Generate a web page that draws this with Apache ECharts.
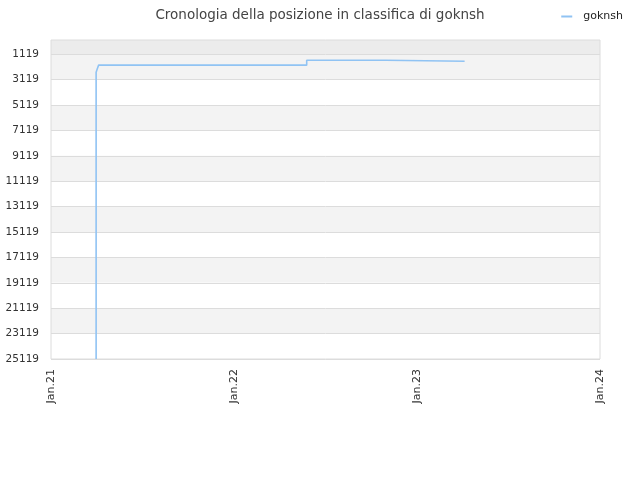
<!DOCTYPE html>
<html>
<head>
<meta charset="utf-8">
<script src="https://cdn.jsdelivr.net/npm/echarts@6/dist/echarts.min.js"></script>
<style>html,body{margin:0;padding:0;background:#fff}#c{width:640px;height:480px}</style>
</head>
<body>
<div id="c"></div>
<script>
var titleText = 'Cronologia della posizione in classifica di goknsh';
var seriesName = 'goknsh';
var dates = ['2021-04-01','2021-04-01','2021-04-01','2021-04-01','2021-04-01','2021-04-03','2021-04-06','2022-05-26','2022-10-31','2023-04-06'];
var ranks = [25119, 22126, 20316, 19349, 2540, 2300, 1980, 1591, 1670, 1670];
var yTicks = [1119, 3119, 5119, 7119, 9119, 11119, 13119, 15119, 17119, 19119, 21119, 23119, 25119];
var yMin = 1, yMax = 25119;
var xTickDates = ['2021-01-01','2022-01-01','2023-01-01','2024-01-01'];
var xTickLabels = ['Jan.21','Jan.22','Jan.23','Jan.24'];

function ts(s){ var p = s.split('-'); return Date.UTC(+p[0], +p[1]-1, +p[2]); }
var xTicks = xTickDates.map(ts);
var labelMap = {};
xTicks.forEach(function(t,i){ labelMap[t] = xTickLabels[i]; });

var bands = [[{yAxis: yMin, itemStyle:{color:'#ececec'}},{yAxis: yTicks[0]}]];
for (var i = 0; i < yTicks.length - 1; i++) {
  bands.push([{yAxis: yTicks[i], itemStyle:{color: i % 2 === 0 ? '#f3f3f3' : '#ffffff'}},{yAxis: yTicks[i+1]}]);
}

var chart = echarts.init(document.getElementById('c'));
chart.setOption({
  animation: false,
  backgroundColor: '#fff',
  title: {
    text: titleText, left: 'center', top: 3,
    textStyle: {fontFamily: 'DejaVu Sans', fontSize: 13.5, fontWeight: 'normal', color: '#444'}
  },
  legend: {
    right: 12, top: 6, icon: 'rect', itemWidth: 11, itemHeight: 2, itemGap: 5,
    textStyle: {fontFamily: 'DejaVu Sans', fontSize: 11, color: '#222', padding: [0, 0, 0, 6]},
    data: [seriesName]
  },
  grid: {left: 51, right: 40, top: 40, bottom: 121, show: true, borderColor: '#dcdcdc', borderWidth: 1, containLabel: false},
  xAxis: {
    type: 'value', min: xTicks[0], max: xTicks[xTicks.length-1],
    axisLine: {show: false}, axisTick: {show: false, customValues: xTicks}, splitLine: {show: false},
    axisLabel: {
      customValues: xTicks, rotate: 90, margin: 10,
      fontFamily: 'DejaVu Sans', fontSize: 11, color: '#333',
      formatter: function(v){ return labelMap[v] || ''; }
    }
  },
  yAxis: {
    type: 'value', inverse: true, min: yMin, max: yMax,
    axisLine: {show: false},
    axisTick: {show: false, customValues: yTicks},
    axisLabel: {customValues: yTicks, fontFamily: 'DejaVu Sans', fontSize: 10.5, color: '#333', margin: 12,
      formatter: function(v){ return String(v); }},
    splitLine: {show: true, lineStyle: {color: '#dcdcdc', width: 1}},
    splitArea: {show: false}
  },
  series: [{
    name: seriesName, type: 'line', step: 'end', symbol: 'none',
    lineStyle: {color: '#90c3f3', width: 1.6},
    itemStyle: {color: '#90c3f3'},
    data: dates.map(function(d,i){ return [ts(d), ranks[i]]; }),
    markArea: {silent: true, z: -1, data: bands}
  }]
});
</script>
</body>
</html>
